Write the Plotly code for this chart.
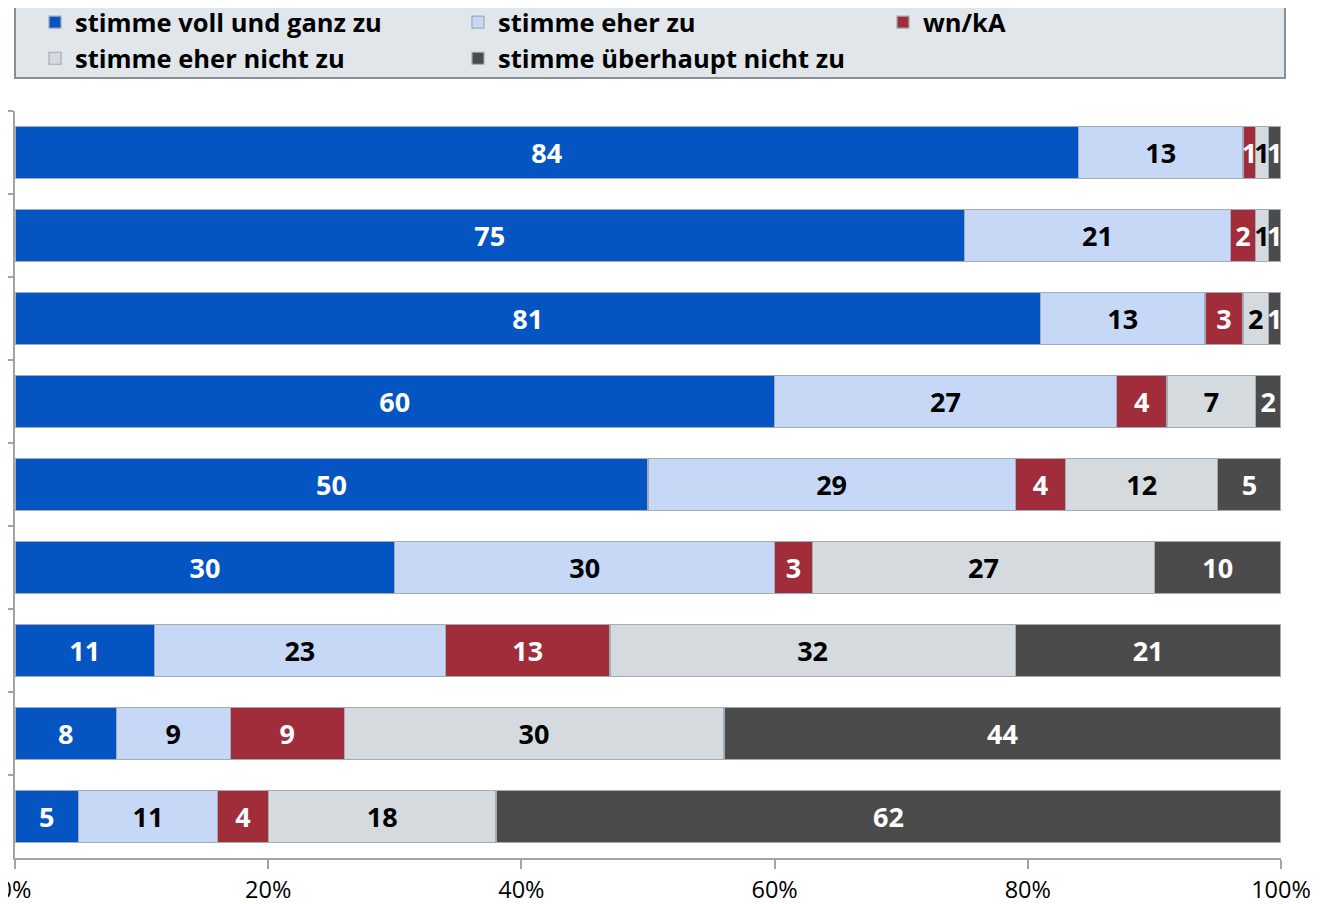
import plotly.graph_objects as go

rows = ["1", "2", "3", "4", "5", "6", "7", "8", "9"]
series_names = ["stimme voll und ganz zu", "stimme eher zu", "wn/kA",
                "stimme eher nicht zu", "stimme überhaupt nicht zu"]
voll = [84, 75, 81, 60, 50, 30, 11, 8, 5]
eher = [13, 21, 13, 27, 29, 30, 23, 9, 11]
wnka = [1, 2, 3, 4, 4, 3, 13, 9, 4]
eher_nicht = [1, 1, 2, 7, 12, 27, 32, 30, 18]
ueberhaupt_nicht = [1, 1, 1, 2, 5, 10, 21, 44, 62]
x_ticks = [0, 20, 40, 60, 80, 100]

values = [voll, eher, wnka, eher_nicht, ueberhaupt_nicht]
colors = ["#0455C2", "#C6D8F5", "#A12D3A", "#D5DADF", "#4B4B4B"]
text_colors = ["white", "black", "white", "black", "white"]
legend_ids = ["legend", "legend2", "legend3", "legend", "legend2"]

FONT = "Open Sans"

fig = go.Figure()
for name, vals, col, tcol, lg in zip(series_names, values, colors, text_colors, legend_ids):
    fig.add_trace(go.Bar(
        y=rows, x=vals, name=name, orientation="h",
        marker=dict(color=col, line=dict(color="#A3ABB6", width=1.2)),
        text=[str(v) for v in vals], textposition="inside",
        insidetextanchor="middle", constraintext="none",
        textfont=dict(family=FONT, size=27, color=tcol, weight="bold"),
        insidetextfont=dict(family=FONT, size=27, color=tcol, weight="bold"),
        legend=lg, hoverinfo="skip",
    ))

# page has an 8px body margin; work in page pixels and shift
OFF = 8
W, H = 1330 - OFF, 904 - OFF
plot_left, plot_right, plot_top, plot_bottom = 15, 1281, 111, 858
ml = plot_left - OFF
mt = plot_top - OFF
mr = (W + OFF) - plot_right
mb = (H + OFF) - plot_bottom
pw = plot_right - plot_left
ph = plot_bottom - plot_top

def px_x(p):
    return (p - plot_left) / pw

def px_y(p):
    return (plot_bottom - p) / ph

legend_font = dict(family=FONT, size=25.5, color="black", weight="bold")
common = dict(bgcolor="rgba(0,0,0,0)", borderwidth=0, font=legend_font,
              xanchor="left", yanchor="top", orientation="v", traceorder="normal",
              itemclick=False, itemdoubleclick=False)

fig.update_layout(
    width=W, height=H,
    margin=dict(l=ml, r=mr, t=mt, b=mb, autoexpand=False),
    paper_bgcolor="white", plot_bgcolor="white",
    barmode="stack", bargap=0.373,
    showlegend=True,
    legend=dict(x=px_x(35), y=px_y(-1), **common),
    legend2=dict(x=px_x(458), y=px_y(-1), **common),
    legend3=dict(x=px_x(883), y=px_y(-1), **common),
    xaxis=dict(range=[0, 100], tickvals=x_ticks, ticktext=[f"{t}%" for t in x_ticks],
               showgrid=False, zeroline=False, showline=True, linecolor="#A0A4AA",
               linewidth=1.5, ticks="outside", ticklen=9, tickcolor="#A0A4AA",
               tickwidth=1.5, ticklabelstandoff=1, ticklabeloverflow="allow",
               tickfont=dict(family=FONT, size=23.5, color="black")),
    yaxis=dict(type="category", autorange="reversed", showticklabels=False,
               showgrid=False, zeroline=False, showline=True, linecolor="#A0A4AA",
               linewidth=1.5, ticks="outside", ticklen=10, tickcolor="#A0A4AA",
               tickwidth=1.5, tickson="boundaries"),
    shapes=[dict(type="rect", xref="paper", yref="paper",
                 x0=px_x(15), x1=px_x(1285), y0=px_y(78), y1=px_y(4),
                 fillcolor="#E1E6EA", line=dict(color="#8A8F95", width=2),
                 layer="above")],
)

fig.write_html("out.html")
